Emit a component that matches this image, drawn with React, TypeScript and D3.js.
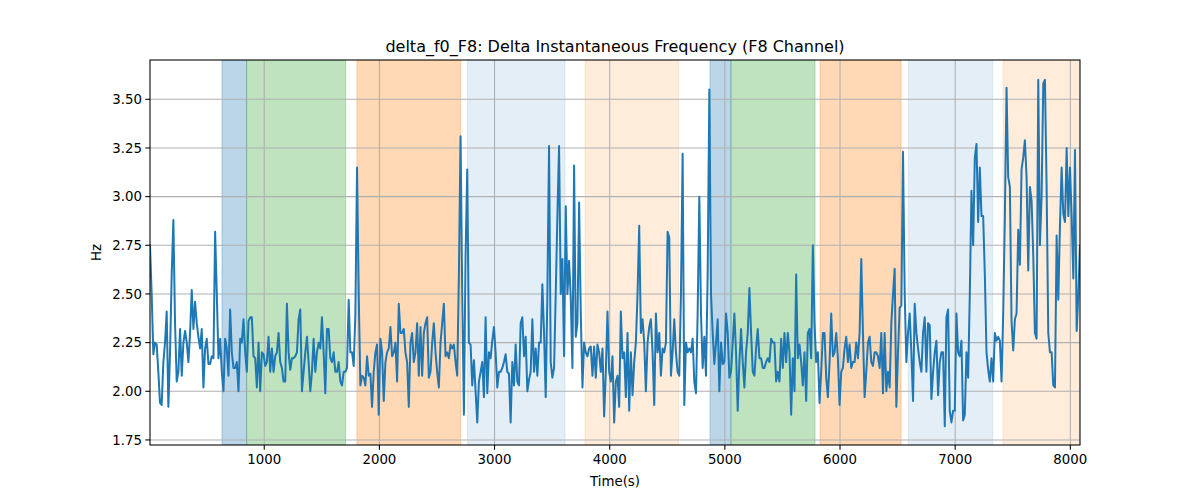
import React from 'react';
import * as d3 from 'd3';

// Sampling grid (seconds)
const SAMPLE_START = 8;
const SAMPLE_END = 8084;

// delta_f0 values (Hz), read left to right
const seg1 = [
  2.75, 2.5, 2.19, 2.25, 2.24, 2.1, 1.94, 1.93, 2.15, 2.25,
  2.41, 1.92, 2.2, 2.6, 2.88, 2.35, 2.05, 2.1, 2.32, 2.08,
  2.25, 2.31, 2.25, 2.15, 2.3, 2.52, 2.32, 2.46, 2.35, 2.28,
  2.22, 2.32, 2.02, 2.22, 2.27, 2.14, 2.14, 2.18, 2.17, 2.82,
  2.5, 2.17, 2.27, 2.1, 2.0, 2.27, 2.22, 2.08, 2.42, 2.2,
  2.12, 2.12, 2.15, 2.0, 2.27, 2.25, 2.37, 2.2, 2.1, 2.36,
  2.38, 2.38, 2.18, 2.17, 2.02, 2.25, 2.0, 2.2, 2.19, 2.13,
  2.15, 2.28, 2.1, 2.22, 2.1, 2.18, 2.2, 2.3, 2.15, 2.12,
  2.05, 2.05, 2.45, 2.2, 2.11, 2.17, 2.17, 2.18,
];
const seg2 = [
  2.2, 2.37, 2.42, 2.0, 2.1, 2.2, 2.28, 2.15, 2.0, 2.1,
  2.27, 2.1, 2.2, 2.25, 2.22, 2.38, 2.2, 1.99, 2.32, 2.32,
  2.17, 2.15, 2.2, 2.1, 2.1, 2.15, 2.05, 2.03, 2.1, 2.1,
  2.12, 2.47, 2.2, 2.2, 2.13, 2.4, 3.15, 2.5, 2.03, 2.08,
  2.07, 2.03, 2.18, 2.08, 2.09, 1.92, 2.1, 2.2, 2.24, 1.88,
  2.27, 2.2, 1.95, 2.15, 2.2, 2.22, 2.33, 2.18, 2.2, 2.25,
  2.05, 2.45, 2.3, 2.3, 2.32, 2.2, 2.15, 1.92, 2.25, 2.3,
  2.15, 2.2, 2.35, 2.08, 2.33, 2.08, 2.3, 2.35, 2.38, 2.07,
  2.1, 2.25, 2.35, 2.2, 2.1, 2.02, 2.25, 2.35, 2.45, 2.18,
  2.2, 2.17, 2.24, 2.22,
];
const seg3 = [
  2.24, 2.15, 2.08, 2.6, 3.31, 2.5, 1.88, 2.7, 3.14, 2.25,
  2.24, 2.03, 2.16, 2.0, 1.84, 2.05, 2.1, 2.15, 1.97, 2.38,
  1.99, 2.2, 2.17, 2.26, 2.33, 2.2, 2.02, 2.1, 2.1, 2.12,
  2.15, 2.19, 2.1, 2.09, 1.84, 2.15, 2.03, 2.24, 2.05, 2.03,
  2.35, 2.38, 2.18, 2.28, 2.0, 2.06, 2.1, 2.37, 2.1, 2.22,
  2.08, 2.25, 2.25, 2.55, 2.3, 1.97, 2.5, 3.26, 2.15, 2.07,
  2.12, 2.5, 2.9, 3.26, 2.5, 2.68, 2.18, 2.95, 2.5, 2.67,
  2.48, 2.12, 3.16, 2.28, 2.35, 2.97, 2.4, 2.02, 2.25, 2.2,
  2.18, 2.22, 2.23, 2.08, 2.23, 2.07, 2.24, 2.2, 2.1, 2.22,
  1.87, 2.1, 2.41,
];
const seg4 = [
  2.1, 2.05, 2.18, 1.84, 2.05, 2.08, 1.92, 2.41, 2.17, 2.2,
  1.97, 2.3, 1.9, 2.2, 1.98, 2.15, 2.25, 2.5, 2.85, 2.3,
  2.37, 2.25, 2.0, 2.25, 2.33, 2.37, 2.2, 1.93, 2.4, 2.2,
  2.3, 2.08, 2.22, 2.2, 2.25, 2.82, 2.79, 2.08, 2.2, 2.37,
  2.2, 2.1, 2.08, 2.5, 3.22, 1.93, 2.25, 2.2, 2.22,
  2.2, 2.27, 2.05, 1.99, 2.4, 3.0, 2.4, 2.12, 2.28,
  2.08, 2.6, 3.55, 2.5, 2.3, 2.14, 2.25, 2.37, 2.0, 2.25,
  2.14, 2.15, 2.4, 2.3, 2.07, 2.1, 2.25, 2.4, 2.2, 1.9,
  2.15, 2.32, 2.15, 2.02, 2.2, 2.3, 2.53, 2.3, 2.1, 2.08,
  2.22, 2.32, 2.17, 2.17, 2.12,
];
const seg5 = [
  2.12, 2.15, 2.17, 2.15, 2.27, 2.25, 2.25, 2.05, 2.1, 2.05,
  2.27, 2.12, 2.3, 2.15, 2.3, 2.2, 1.88, 2.17, 2.0, 2.6,
  2.17, 2.24, 2.15, 2.03, 2.2, 1.95, 2.3, 2.32, 2.17, 2.75,
  2.35, 2.15, 2.2, 1.94, 2.1, 2.3, 2.3, 2.07, 1.97, 2.15,
  2.4, 2.18, 2.2, 2.3, 2.17, 1.93, 2.1, 2.12, 2.22, 2.28,
  2.15, 2.24, 2.12, 2.15, 2.15, 2.25, 2.17, 2.3, 2.68, 2.3,
  1.97, 2.1, 2.25, 2.28, 2.15, 2.13, 2.2, 2.2, 2.18, 2.12,
  2.3, 1.99, 2.3, 2.0, 2.1, 2.02, 2.35, 2.5, 2.63, 1.92,
  2.2, 2.43, 2.44, 3.23, 2.5, 2.15, 2.3, 2.4, 2.2, 1.95,
  2.45, 2.3, 2.22,
];
const seg6 = [
  2.15, 2.1, 2.3, 2.38, 2.1, 2.35, 2.34, 1.96, 2.1, 2.2,
  2.26, 1.98, 2.15, 2.2, 2.2, 1.82, 2.38, 2.42, 1.9, 1.84,
  1.9, 1.9, 2.4, 2.2, 2.18, 2.26, 1.85, 1.88, 2.2, 2.07,
  2.5, 3.03, 2.75, 3.2, 3.27, 2.87, 3.15, 2.9, 2.9, 2.6,
  2.2, 2.11, 2.05, 2.17, 2.05, 2.3, 2.26, 2.28, 2.26, 2.05,
  2.4, 2.9, 3.56, 3.1, 3.05, 2.36, 2.21, 2.37, 2.4, 2.83,
  2.65, 3.14, 3.2, 3.29, 3.1, 2.62, 3.05, 2.98, 2.7, 2.3,
  2.27, 3.6, 2.75, 3.0, 3.58, 3.6, 3.05, 2.3, 2.2, 2.2,
  2.03, 2.02, 2.8, 2.47, 2.85, 3.15, 2.91, 2.87, 3.25, 2.9,
  3.15, 2.9, 2.58, 3.24, 2.31, 2.5, 2.75,
];
const hzValues = [...seg1, ...seg2, ...seg3, ...seg4, ...seg5, ...seg6];

// Shaded intervals (seconds)
const spanStarts = [633, 847, 1805, 2766, 3786, 4871, 5053, 5826, 6593, 7416];
const spanEnds = [847, 1707, 2706, 3612, 4599, 5053, 5783, 6530, 7326, 8084];
const spanColors = ['#1f77b4', '#2ca02c', '#ff7f0e', '#1f77b4', '#ff7f0e', '#1f77b4', '#2ca02c', '#ff7f0e', '#1f77b4', '#ff7f0e'];
const spanAlphas = [0.3, 0.3, 0.3, 0.12, 0.15, 0.3, 0.3, 0.3, 0.12, 0.15];

const xTicks = [1000, 2000, 3000, 4000, 5000, 6000, 7000, 8000];
const yTicks = [1.75, 2.0, 2.25, 2.5, 2.75, 3.0, 3.25, 3.5];

const TITLE = 'delta_f0_F8: Delta Instantaneous Frequency (F8 Channel)';
const X_LABEL = 'Time(s)';
const Y_LABEL = 'Hz';

export default function App() {
  const W = 1200;
  const H = 500;
  const left = 150, right = 1080, top = 60, bottom = 445;
  const x = d3.scaleLinear().domain([SAMPLE_START, SAMPLE_END]).range([left, right]);
  const y = d3.scaleLinear().domain([1.724, 3.702]).range([bottom, top]);
  const n = hzValues.length;
  const times = hzValues.map((_, i) => SAMPLE_START + (i * (SAMPLE_END - SAMPLE_START)) / (n - 1));
  const line = d3
    .line<number>()
    .x((_, i) => x(times[i]))
    .y((d) => y(d));
  const fmt = d3.format('.2f');
  const font = '"DejaVu Sans", sans-serif';

  return (
    <div style={{ position: 'absolute', left: 0, top: 0 }}>
      <svg width={W} height={H} style={{ display: 'block', background: '#fff' }}>
        <defs>
          <clipPath id="plotClip">
            <rect x={left} y={top} width={right - left} height={bottom - top} />
          </clipPath>
        </defs>
        <g clipPath="url(#plotClip)">
          {spanStarts.map((s, i) => (
            <rect
              key={'span' + i}
              x={x(s)}
              y={top}
              width={x(spanEnds[i]) - x(s)}
              height={bottom - top}
              fill={spanColors[i]}
              fillOpacity={spanAlphas[i]}
              stroke={spanColors[i]}
              strokeOpacity={spanAlphas[i]}
              strokeWidth={1}
            />
          ))}
          {xTicks.map((t) => (
            <line key={'gx' + t} x1={x(t)} x2={x(t)} y1={top} y2={bottom} stroke="#b0b0b0" strokeWidth={1.07} />
          ))}
          {yTicks.map((t) => (
            <line key={'gy' + t} x1={left} x2={right} y1={y(t)} y2={y(t)} stroke="#b0b0b0" strokeWidth={1.07} />
          ))}
          <path d={line(hzValues) || ''} fill="none" stroke="#1f77b4" strokeWidth={2} strokeLinejoin="round" strokeLinecap="square" />
        </g>
        <rect x={left} y={top} width={right - left} height={bottom - top} fill="none" stroke="#000" strokeWidth={1.07} />
        {xTicks.map((t) => (
          <g key={'tx' + t}>
            <line x1={x(t)} x2={x(t)} y1={bottom} y2={bottom + 4.67} stroke="#000" strokeWidth={1.07} />
            <text x={x(t)} y={bottom + 19} textAnchor="middle" fontFamily={font} fontSize={13.33} fill="#000">
              {t}
            </text>
          </g>
        ))}
        {yTicks.map((t) => (
          <g key={'ty' + t}>
            <line x1={left - 4.67} x2={left} y1={y(t)} y2={y(t)} stroke="#000" strokeWidth={1.07} />
            <text x={left - 8} y={y(t)} dy="0.35em" textAnchor="end" fontFamily={font} fontSize={13.33} fill="#000">
              {fmt(t)}
            </text>
          </g>
        ))}
        <text x={(left + right) / 2} y={52} textAnchor="middle" fontFamily={font} fontSize={16} fill="#000">
          {TITLE}
        </text>
        <text x={(left + right) / 2} y={486} textAnchor="middle" fontFamily={font} fontSize={13.33} fill="#000">
          {X_LABEL}
        </text>
        <text
          transform={`translate(101, ${(top + bottom) / 2}) rotate(-90)`}
          textAnchor="middle"
          fontFamily={font}
          fontSize={13.33}
          fill="#000"
        >
          {Y_LABEL}
        </text>
      </svg>
    </div>
  );
}
